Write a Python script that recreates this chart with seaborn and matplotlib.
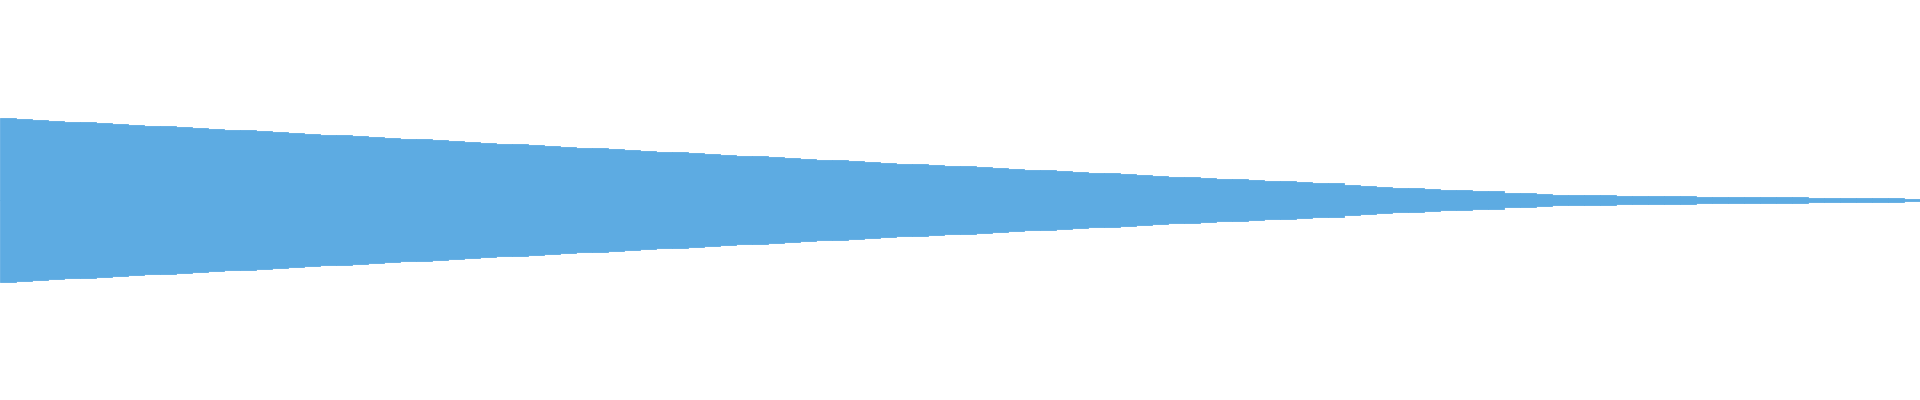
import numpy as np
import pandas as pd
import matplotlib
matplotlib.use("Agg")
import matplotlib.pyplot as plt
import seaborn as sns

# peak amplitude per waveform block (fraction of full scale)
peak = [
    0.410, 0.405, 0.400, 0.395, 0.390, 0.390, 0.385, 0.380, 0.375, 0.370,
    0.370, 0.365, 0.360, 0.355, 0.350, 0.350, 0.345, 0.340, 0.335, 0.330,
    0.325, 0.325, 0.320, 0.315, 0.310, 0.305, 0.305, 0.300, 0.295, 0.290,
    0.285, 0.280, 0.280, 0.275, 0.270, 0.265, 0.260, 0.260, 0.255, 0.250,
    0.245, 0.240, 0.240, 0.235, 0.230, 0.225, 0.220, 0.220, 0.215, 0.210,
    0.205, 0.200, 0.200, 0.195, 0.190, 0.185, 0.180, 0.180, 0.175, 0.170,
    0.170, 0.165, 0.160, 0.155, 0.150, 0.150, 0.145, 0.140, 0.135, 0.135,
    0.130, 0.125, 0.120, 0.115, 0.115, 0.110, 0.105, 0.105, 0.100, 0.095,
    0.095, 0.090, 0.085, 0.083, 0.075, 0.068, 0.063, 0.060, 0.058, 0.053,
    0.048, 0.048, 0.043, 0.043, 0.035, 0.033, 0.028, 0.025, 0.025, 0.023,
    0.023, 0.020, 0.018, 0.018, 0.018, 0.018, 0.015, 0.013, 0.013, 0.013,
    0.013, 0.013, 0.013, 0.010, 0.010, 0.010, 0.008, 0.008, 0.008, 0.005,
]
block = list(range(len(peak)))

wave_color = "#5DABE2"

df = pd.DataFrame({"block": block, "peak": peak})
df["trough"] = -df["peak"]

sns.set_style("white")
fig = plt.figure(figsize=(19.2, 4), dpi=100)
ax = fig.add_axes([0, 0, 1, 1])

# upper and lower halves of the waveform
for col in ["peak", "trough"]:
    sns.barplot(data=df, x="block", y=col, color=wave_color, saturation=1,
                width=1.0, edgecolor=wave_color, linewidth=0.6, ax=ax)

ax.set_xlim(-0.5, len(peak) - 0.5)
ax.set_ylim(-1, 1)
ax.axis("off")

fig.savefig("out.png", dpi=100, facecolor="white")
